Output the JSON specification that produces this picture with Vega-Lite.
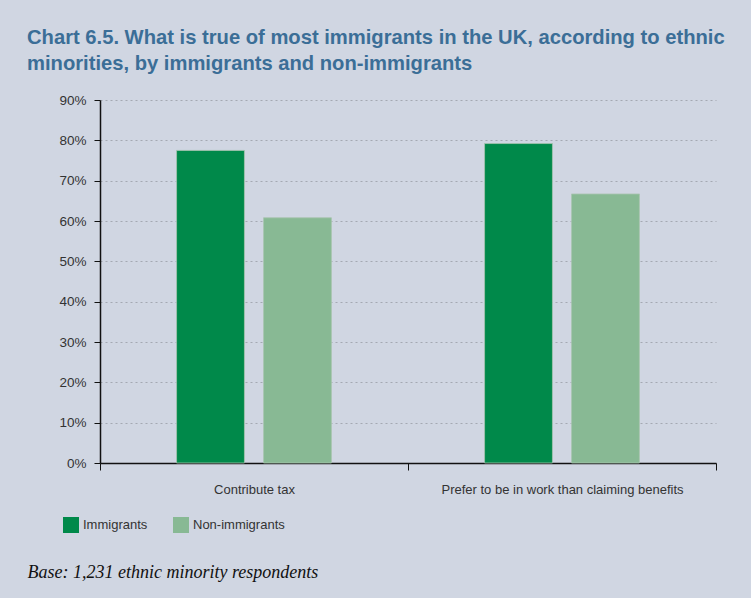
{
  "$schema": "https://vega.github.io/schema/vega-lite/v6.json",
  "autosize": {"type": "none"},
  "width": 616,
  "height": 363,
  "padding": {"left": 100, "top": 100, "right": 35, "bottom": 135},
  "background": "#d0d6e2",
  "title": {
    "text": ["Chart 6.5. What is true of most immigrants in the UK, according to ethnic", "minorities, by immigrants and non-immigrants"],
    "anchor": "start",
    "frame": "group",
    "dx": -73,
    "offset": 19,
    "font": "Liberation Sans",
    "fontSize": 20.2,
    "fontWeight": "bold",
    "color": "#3b6e97",
    "lineHeight": 26
  },
  "data": {
    "values": [
      {"category": "Contribute tax", "group": "Immigrants", "value": 77.5},
      {"category": "Contribute tax", "group": "Non-immigrants", "value": 60.8},
      {"category": "Prefer to be in work than claiming benefits", "group": "Immigrants", "value": 79.2},
      {"category": "Prefer to be in work than claiming benefits", "group": "Non-immigrants", "value": 66.7}
    ]
  },
  "mark": {"type": "bar", "stroke": "#a8c4b0", "strokeWidth": 0.8},
  "encoding": {
    "x": {
      "field": "category",
      "type": "nominal",
      "sort": null,
      "scale": {"paddingInner": 0, "paddingOuter": 0},
      "axis": {
        "title": "Base: 1,231 ethnic minority respondents",
        "titleFont": "Liberation Serif",
        "titleFontStyle": "italic",
        "titleFontWeight": "normal",
        "titleFontSize": 18,
        "titleColor": "#111111",
        "titleAnchor": "start",
        "titleAlign": "left",
        "titleBaseline": "alphabetic",
        "titleX": -73,
        "titleY": 114,
        "labelAngle": 0,
        "labelLimit": 500,
        "labelFont": "Liberation Sans",
        "labelFontSize": 13,
        "labelColor": "#333333",
        "labelPadding": 13,
        "tickBand": "extent",
        "tickSize": 7,
        "tickColor": "#111111",
        "domainColor": "#111111",
        "domainWidth": 1.5,
        "grid": false
      }
    },
    "xOffset": {
      "field": "group",
      "type": "nominal",
      "scale": {"paddingInner": 0.22, "paddingOuter": 0.88}
    },
    "y": {
      "field": "value",
      "type": "quantitative",
      "scale": {"domain": [0, 90]},
      "axis": {
        "title": null,
        "values": [0, 10, 20, 30, 40, 50, 60, 70, 80, 90],
        "labelExpr": "datum.value + '%'",
        "labelFont": "Liberation Sans",
        "labelFontSize": 13.5,
        "labelColor": "#333333",
        "labelPadding": 8,
        "tickSize": 6,
        "tickColor": "#111111",
        "domainColor": "#111111",
        "domainWidth": 1.5,
        "gridColor": "#a4a9b2",
        "gridDash": [2, 3],
        "gridWidth": 1
      }
    },
    "color": {
      "field": "group",
      "type": "nominal",
      "scale": {"domain": ["Immigrants", "Non-immigrants"], "range": ["#00894a", "#88b994"]},
      "legend": {
        "title": null,
        "orient": "none",
        "legendX": -37,
        "legendY": 417,
        "direction": "horizontal",
        "symbolType": "square",
        "symbolSize": 256,
        "symbolStrokeWidth": 0,
        "labelFont": "Liberation Sans",
        "labelFontSize": 13,
        "labelColor": "#333333",
        "labelOffset": 4,
        "columnPadding": 25
      }
    }
  },
  "config": {"view": {"stroke": null}}
}
